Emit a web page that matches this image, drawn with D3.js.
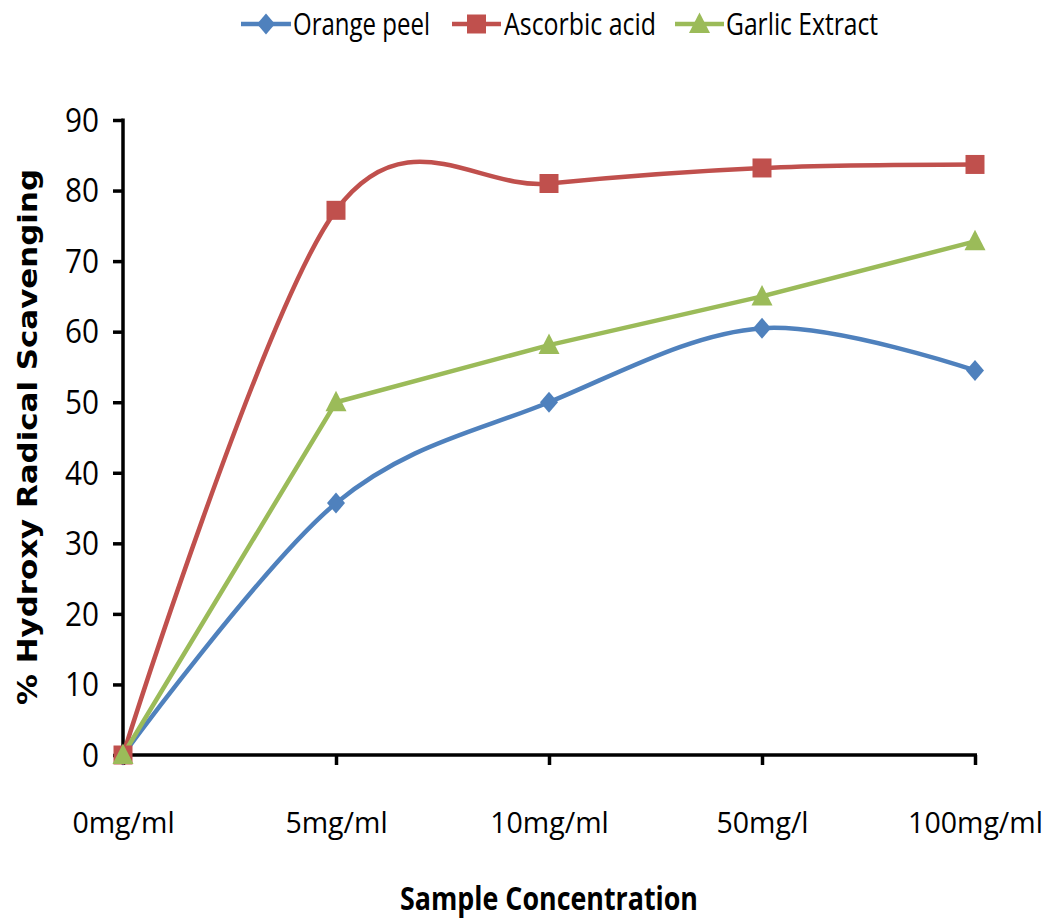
<!DOCTYPE html>
<html>
<head>
<meta charset="utf-8">
<script src="https://cdn.jsdelivr.net/npm/d3@7"></script>
<style>
  html, body { margin: 0; padding: 0; background: #fff; }
  svg { display: block; }
  .cal { font-family: "Liberation Sans Narrow", "Open Sans", "Liberation Sans", sans-serif; }
</style>
</head>
<body>
<div id="chart"></div>
<script>
// Hydroxy radical scavenging by sample concentration
const categories = ["0mg/ml", "5mg/ml", "10mg/ml", "50mg/l", "100mg/ml"];
const orangePeel = [0, 35.7, 50.0, 60.5, 54.5];
const ascorbicAcid = [0, 77.2, 81.0, 83.2, 83.7];
const garlicExtract = [0, 50.0, 58.1, 65.0, 72.8];
const yTicks = [0, 10, 20, 30, 40, 50, 60, 70, 80, 90];

const seriesNames = ["Orange peel", "Ascorbic acid", "Garlic Extract"];
const seriesColors = ["#4F81BD", "#C0504D", "#9BBB59"];

const W = 1054, H = 922;
const svg = d3.select("#chart").append("svg").attr("width", W).attr("height", H);

const x = d3.scalePoint().domain(categories).range([123, 975]);
const y = d3.scaleLinear().domain([0, 90]).range([755, 120]);

const series = [
  { name: seriesNames[0], values: orangePeel, color: seriesColors[0], shape: "diamond", curve: d3.curveCardinal.tension(0) },
  { name: seriesNames[1], values: ascorbicAcid, color: seriesColors[1], shape: "square", curve: d3.curveCardinal.tension(0) },
  { name: seriesNames[2], values: garlicExtract, color: seriesColors[2], shape: "triangle", curve: d3.curveLinear }
];

function markerPath(shape) {
  if (shape === "diamond") return "M0,-10.5L9,0L0,10.5L-9,0Z";
  if (shape === "square") return "M-9.5,-9.5H9.5V9.5H-9.5Z";
  return "M0,-11.5L10.5,9H-10.5Z";
}

// narrow the fallback font towards the compact label widths
function condense(sel, factor) {
  sel.each(function () {
    const len = this.getComputedTextLength();
    d3.select(this).attr("textLength", len * factor).attr("lengthAdjust", "spacingAndGlyphs");
  });
}

// axes
const yAxis = d3.axisLeft(y).tickValues(yTicks).tickSize(10).tickPadding(14);
const yg = svg.append("g").attr("transform", "translate(123,0)").call(yAxis);
yg.select(".domain").attr("stroke", "#000").attr("stroke-width", 3.5).attr("d", "M0,118.5V756.5");
yg.selectAll(".tick line").attr("stroke", "#000").attr("stroke-width", 3.5);
yg.selectAll(".tick text").attr("class", "cal").attr("font-size", 33).attr("fill", "#000")
  .attr("dy", "0.34em");
condense(yg.selectAll(".tick text"), 0.9);

const xAxis = d3.axisBottom(x).tickSize(10).tickPadding(47);
const xg = svg.append("g").attr("transform", "translate(0,755)").call(xAxis);
xg.select(".domain").attr("stroke", "#000").attr("stroke-width", 3.5).attr("d", "M121.5,0H977");
xg.selectAll(".tick line").attr("stroke", "#000").attr("stroke-width", 3.5);
xg.selectAll(".tick text").attr("class", "cal").attr("font-size", 30).attr("fill", "#000");
condense(xg.selectAll(".tick text"), 0.95);

// lines
series.forEach(s => {
  const line = d3.line()
    .x((d, i) => x(categories[i]))
    .y(d => y(d))
    .curve(s.curve);
  svg.append("path")
    .datum(s.values)
    .attr("d", line)
    .attr("fill", "none")
    .attr("stroke", s.color)
    .attr("stroke-width", 4.5)
    .attr("stroke-linejoin", "round");
});

// markers
series.forEach(s => {
  svg.append("g").selectAll("path")
    .data(s.values)
    .join("path")
    .attr("transform", (d, i) => `translate(${x(categories[i])},${y(d)})`)
    .attr("d", markerPath(s.shape))
    .attr("fill", s.color);
});

// axis titles
svg.append("text")
  .attr("class", "cal")
  .attr("x", 549).attr("y", 910)
  .attr("text-anchor", "middle")
  .attr("font-size", 33).attr("font-weight", "bold")
  .attr("textLength", 298).attr("lengthAdjust", "spacingAndGlyphs")
  .text("Sample Concentration");

svg.append("text")
  .attr("transform", "translate(37,437) rotate(-90)")
  .attr("text-anchor", "middle")
  .attr("font-family", "DejaVu Sans, Verdana, sans-serif")
  .attr("font-size", 26).attr("font-weight", "bold")
  .attr("textLength", 536).attr("lengthAdjust", "spacingAndGlyphs")
  .text("% Hydroxy Radical Scavenging");

// legend
const legendItems = [
  { s: series[0], x0: 241, x1: 291, tx: 293, tw: 137 },
  { s: series[1], x0: 452, x1: 501, tx: 504, tw: 152 },
  { s: series[2], x0: 675, x1: 724, tx: 726, tw: 152 }
];
const lg = svg.append("g");
legendItems.forEach(it => {
  const cy = 24;
  lg.append("line").attr("x1", it.x0).attr("x2", it.x1).attr("y1", cy).attr("y2", cy)
    .attr("stroke", it.s.color).attr("stroke-width", 4.5);
  lg.append("path").attr("transform", `translate(${(it.x0 + it.x1) / 2},${cy})`)
    .attr("d", markerPath(it.s.shape)).attr("fill", it.s.color);
  lg.append("text").attr("class", "cal")
    .attr("x", it.tx).attr("y", cy).attr("dy", "0.35em")
    .attr("font-size", 31).attr("fill", "#000")
    .attr("textLength", it.tw).attr("lengthAdjust", "spacingAndGlyphs")
    .text(it.s.name);
});
</script>
</body>
</html>
